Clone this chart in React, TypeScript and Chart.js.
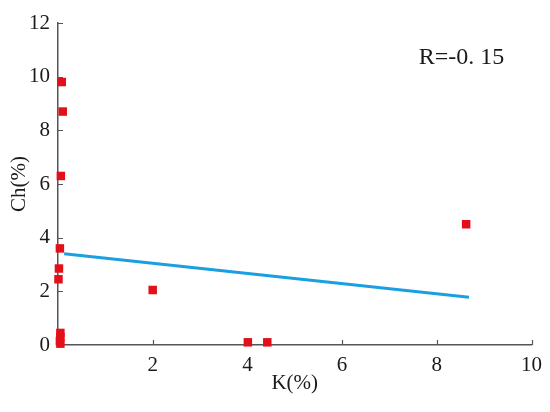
import React, { useEffect, useRef } from "react";
import { Chart, registerables } from "chart.js";

Chart.register(...registerables);

const kValues = [0.08, 0.1, 0.06, 0.04, 0.02, 0.01, 2.0, 0.05, 0.05, 0.04, 0.05, 4.01, 4.42, 8.62];
const chValues = [9.8, 8.7, 6.3, 3.6, 2.85, 2.45, 2.05, 0.45, 0.3, 0.15, 0.05, 0.1, 0.1, 4.5];
const fitK = [0.13, 8.68];
const fitCh = [3.4, 1.78];
const rLabel = "R=-0. 15";
const xTickValues = [2, 4, 6, 8, 10];
const yTickValues = [2, 4, 6, 8, 10, 12];

const SERIF = "'Liberation Serif', 'Times New Roman', serif";
const AXIS = "#555555";

const tickPlugin = {
  id: "innerTicks",
  afterDraw(chart: any) {
    const ctx = chart.ctx;
    const xs = chart.scales.x;
    const ys = chart.scales.y;
    const area = chart.chartArea;
    ctx.save();
    ctx.strokeStyle = AXIS;
    ctx.lineWidth = 1.2;
    ctx.beginPath();
    xTickValues.forEach((v) => {
      const px = Math.round(xs.getPixelForValue(v)) + 0.5;
      ctx.moveTo(px, area.bottom);
      ctx.lineTo(px, area.bottom - 5);
    });
    yTickValues.forEach((v) => {
      const py = Math.round(ys.getPixelForValue(v)) + 0.5;
      ctx.moveTo(area.left, py);
      ctx.lineTo(area.left + 5, py);
    });
    ctx.stroke();
    ctx.fillStyle = "#1a1a1a";
    ctx.font = `24px ${SERIF}`;
    ctx.textAlign = "center";
    ctx.textBaseline = "middle";
    ctx.fillText(rLabel, area.right - 70, area.top + 35);
    ctx.restore();
  },
};

export default function App() {
  const ref = useRef<HTMLCanvasElement | null>(null);
  useEffect(() => {
    if (!ref.current) return;
    const chart = new Chart(ref.current, {
      type: "scatter",
      data: {
        datasets: [
          {
            type: "line",
            data: fitK.map((k, i) => ({ x: k, y: fitCh[i] })),
            borderColor: "#1aa0e0",
            borderWidth: 3,
            pointRadius: 0,
            fill: false,
            clip: false as any,
            order: 2,
          },
          {
            data: kValues.map((k, i) => ({ x: k, y: chValues[i] })),
            pointStyle: "rect",
            pointRadius: 6,
            backgroundColor: "#e3101a",
            borderColor: "#e3101a",
            borderWidth: 0,
            clip: false as any,
            order: 1,
          },
        ],
      },
      options: {
        animation: false,
        responsive: false,
        devicePixelRatio: 1,
        layout: { padding: { top: 23, right: 18, left: 0, bottom: 0 } },
        plugins: { legend: { display: false }, tooltip: { enabled: false } },
        scales: {
          x: {
            type: "linear",
            min: 0,
            max: 10,
            afterFit: (s: any) => {
              s.height = 67;
            },
            grid: { display: false, drawTicks: false },
            border: { display: true, color: AXIS, width: 1.5 },
            ticks: {
              stepSize: 2,
              padding: 8,
              color: "#1a1a1a",
              font: { family: SERIF, size: 21 },
              callback: (v: any) => (v === 0 ? "" : String(v)),
            },
            title: {
              display: true,
              text: "K(%)",
              color: "#1a1a1a",
              font: { family: SERIF, size: 21 },
              padding: { top: 0, bottom: 16 },
            },
          },
          y: {
            type: "linear",
            min: 0,
            max: 12,
            afterFit: (s: any) => {
              s.width = 58;
            },
            grid: { display: false, drawTicks: false },
            border: { display: true, color: AXIS, width: 1.5 },
            ticks: {
              stepSize: 2,
              padding: 8,
              color: "#1a1a1a",
              font: { family: SERIF, size: 21 },
            },
            title: {
              display: true,
              text: "Ch(%)",
              color: "#1a1a1a",
              font: { family: SERIF, size: 21 },
              padding: { top: 7, bottom: 0 },
            },
          },
        },
      },
      plugins: [tickPlugin],
    });
    return () => chart.destroy();
  }, []);
  return (
    <div style={{ position: "fixed", left: 0, top: 0, width: 550, height: 412, background: "#fff" }}>
      <canvas ref={ref} width={550} height={412} style={{ width: 550, height: 412 }} />
    </div>
  );
}
